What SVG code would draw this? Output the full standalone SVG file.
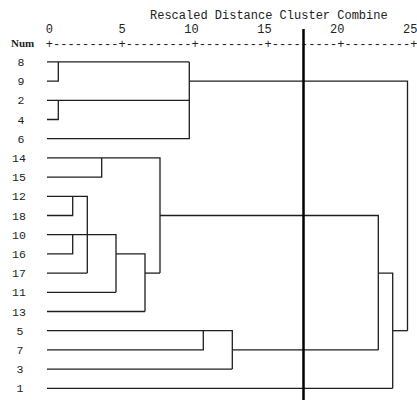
<svg xmlns="http://www.w3.org/2000/svg" width="417" height="401" viewBox="0 0 417 401">
<style>
  .mono { font-family: "Liberation Mono", "Courier New", monospace; font-size: 12px; fill: #222; }
  .lbl { font-family: "Liberation Mono", "Courier New", monospace; font-size: 11.5px; fill: #222; text-anchor: middle; }
  .tick { font-family: "Liberation Mono", "Courier New", monospace; font-size: 12px; fill: #222; text-anchor: middle; }
  .num { font-family: "Liberation Serif", "Times New Roman", serif; font-size: 11px; font-weight: bold; fill: #222; }
  .ln { fill: none; stroke: #1e1e1e; stroke-width: 1.3; }
  .cut { stroke: #000; stroke-width: 2.5; }
</style>
<rect width="417" height="401" fill="#fff"/>
<g id="axis">
  <text class="mono" x="150" y="18.5">Rescaled Distance Cluster Combine</text>
  <text class="tick" x="49.3" y="33.3">0</text>
  <text class="tick" x="122.2" y="33.3">5</text>
  <text class="tick" x="191.5" y="33.3">10</text>
  <text class="tick" x="264.4" y="33.3">15</text>
  <text class="tick" x="337.3" y="33.3">20</text>
  <text class="tick" x="410.2" y="33.3">25</text>
  <text class="num" x="11" y="47">Num</text>
  <text class="mono" x="45.65" y="47.5" textLength="371.8" lengthAdjust="spacing">+---------+---------+---------+---------+---------+</text>
</g>
<g id="labels">
  <text id="n8" class="lbl" x="21" y="65.9">8</text>
  <text id="n9" class="lbl" x="21" y="85.1">9</text>
  <text id="n2" class="lbl" x="21" y="104.3">2</text>
  <text id="n4" class="lbl" x="21" y="123.5">4</text>
  <text id="n6" class="lbl" x="21" y="142.7">6</text>
  <text id="n14" class="lbl" x="19" y="161.9">14</text>
  <text id="n15" class="lbl" x="19" y="181.1">15</text>
  <text id="n12" class="lbl" x="19" y="200.3">12</text>
  <text id="n18" class="lbl" x="19" y="219.5">18</text>
  <text id="n10" class="lbl" x="19" y="238.7">10</text>
  <text id="n16" class="lbl" x="19" y="257.9">16</text>
  <text id="n17" class="lbl" x="19" y="277.1">17</text>
  <text id="n11" class="lbl" x="19" y="296.3">11</text>
  <text id="n13" class="lbl" x="19" y="315.5">13</text>
  <text id="n5" class="lbl" x="20" y="334.7">5</text>
  <text id="n7" class="lbl" x="20" y="353.9">7</text>
  <text id="n3" class="lbl" x="20" y="373.1">3</text>
  <text id="n1" class="lbl" x="20" y="392.3">1</text>
</g>
<g id="connectors" class="ln">
  <path d="M47 61.9 H189.3"/>
  <path d="M47 81.1 H58.3 V61.9"/>
  <path d="M47 100.3 H189.3"/>
  <path d="M47 119.5 H58.3 V100.3"/>
  <path d="M47 138.7 H189.3 V61.9"/>
  <path d="M189.3 81.1 H407.5 V330.7"/>
  <path d="M47 157.9 H160 V273.1"/>
  <path d="M47 177.1 H101.7 V157.9"/>
  <path d="M47 196.3 H87.3 V273.1"/>
  <path d="M47 215.5 H72.7 V196.3"/>
  <path d="M47 234.7 H116 V292.3"/>
  <path d="M47 253.9 H72.7 V234.7"/>
  <path d="M47 273.1 H87.3"/>
  <path d="M47 292.3 H116"/>
  <path d="M116 253.9 H145 V311.5"/>
  <path d="M47 311.5 H145"/>
  <path d="M145 273.1 H160"/>
  <path d="M160 215.5 H378.3 V349.9"/>
  <path d="M47 330.7 H232.3 V369.1"/>
  <path d="M47 349.9 H203.3 V330.7"/>
  <path d="M47 369.1 H232.3"/>
  <path d="M232.3 349.9 H378.3"/>
  <path d="M378.3 273.1 H392.7 V388.3"/>
  <path d="M47 388.3 H392.7"/>
  <path d="M392.7 330.7 H407.5"/>
</g>
<g id="cutoff">
  <line class="cut" x1="303.5" y1="29" x2="303.5" y2="400"/>
</g>
</svg>
